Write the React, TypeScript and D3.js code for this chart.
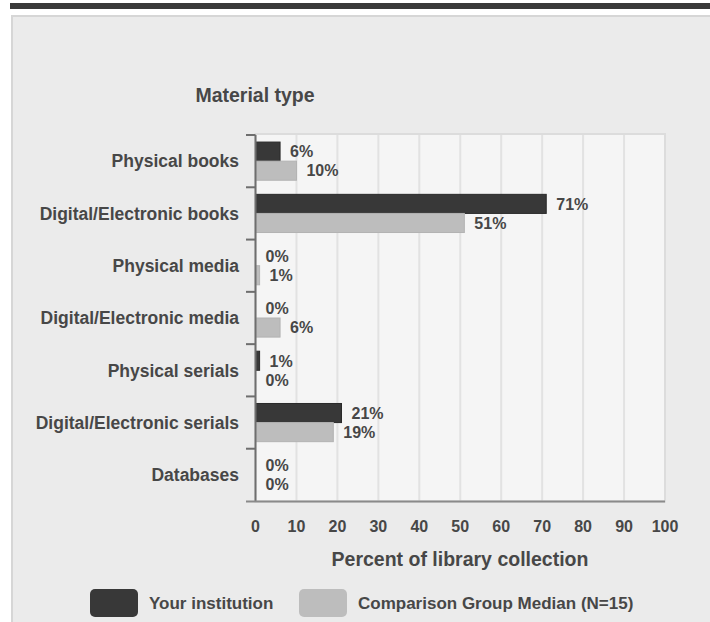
import React from "react";
import * as d3 from "d3";

const categories = [
  "Physical books",
  "Digital/Electronic books",
  "Physical media",
  "Digital/Electronic media",
  "Physical serials",
  "Digital/Electronic serials",
  "Databases",
];
const yourInstitution = [6, 71, 0, 0, 1, 21, 0];
const comparisonMedian = [10, 51, 1, 6, 0, 19, 0];
const seriesNames = ["Your institution", "Comparison Group Median (N=15)"];
const xTicks = [0, 10, 20, 30, 40, 50, 60, 70, 80, 90, 100];

const W = 710;
const H = 622;
const FONT = "Arial, 'Liberation Sans', sans-serif";
const TXT = "#474747";

export default function App() {
  const x = d3.scaleLinear().domain([0, 100]).range([255.5, 665]);
  const y = d3
    .scaleBand<string>()
    .domain(categories)
    .range([135, 501])
    .paddingInner(0.27)
    .paddingOuter(0.135);
  const inner = d3.scaleBand<string>().domain(seriesNames).range([0, y.bandwidth()]);
  const colors = ["#383838", "#bdbdbd"];
  const strokes = ["#2a2a2a", "#b3b3b3"];
  const data = [yourInstitution, comparisonMedian];
  const step = y.step();
  const top = 135;
  const bottom = 501.5;

  return (
    <div style={{ position: "absolute", left: 0, top: 0 }}>
      <svg width={W} height={H} style={{ display: "block" }}>
        <rect x={0} y={0} width={W} height={H} fill="#ffffff" />
        <rect x={10} y={3} width={W - 10} height={6} fill="#3a3a3a" />
        <rect x={12} y={16} width={W} height={H} fill="#ebebeb" stroke="#d6d6d6" strokeWidth={2} />
        <text x={255} y={102} textAnchor="middle" fontFamily={FONT} fontSize={19.5} fontWeight="bold" fill={TXT}>
          Material type
        </text>
        {/* plot background */}
        <rect x={x(0)} y={top - 1} width={x(100) - x(0)} height={bottom - top + 1} fill="#f5f5f5" stroke="#dcdcdc" strokeWidth={2} />
        {xTicks.slice(1, -1).map((t) => (
          <line key={t} x1={x(t)} x2={x(t)} y1={top} y2={bottom} stroke="#e2e2e2" strokeWidth={2} />
        ))}
        {/* bars */}
        {categories.map((c, i) => (
          <g key={c}>
            {data.map((series, s) => {
              const v = series[i];
              const by = (y(c) as number) + (inner(seriesNames[s]) as number);
              const bh = inner.bandwidth();
              return (
                <g key={s}>
                  {v > 0 && (
                    <rect
                      x={x(0)}
                      y={by}
                      width={x(v) - x(0)}
                      height={bh}
                      fill={colors[s]}
                      stroke={strokes[s]}
                      strokeWidth={1}
                    />
                  )}
                  <text
                    x={x(v) + 10}
                    y={by + bh / 2}
                    dy="0.36em"
                    fontFamily={FONT}
                    fontSize={16}
                    fontWeight="bold"
                    fill={TXT}
                  >
                    {v}%
                  </text>
                </g>
              );
            })}
          </g>
        ))}
        {/* left axis */}
        <line x1={x(0)} x2={x(0)} y1={top} y2={bottom} stroke="#6e6e6e" strokeWidth={2} />
        {categories.map((c, i) => (
          <line key={c} x1={246} x2={x(0)} y1={top + i * step} y2={top + i * step} stroke="#6e6e6e" strokeWidth={2} />
        ))}
        {categories.map((c) => (
          <text
            key={c}
            x={239}
            y={(y(c) as number) + y.bandwidth() / 2}
            dy="0.36em"
            textAnchor="end"
            fontFamily={FONT}
            fontSize={17.5}
            fontWeight="bold"
            fill={TXT}
          >
            {c}
          </text>
        ))}
        {/* bottom axis */}
        <line x1={246} x2={665} y1={bottom} y2={bottom} stroke="#8a8a8a" strokeWidth={2} />
        {xTicks.map((t) => (
          <text
            key={t}
            x={x(t)}
            y={526}
            dy="0.36em"
            textAnchor="middle"
            fontFamily={FONT}
            fontSize={16}
            fontWeight="bold"
            fill={TXT}
          >
            {t}
          </text>
        ))}
        <text x={460} y={559} dy="0.36em" textAnchor="middle" fontFamily={FONT} fontSize={19.5} fontWeight="bold" fill={TXT}>
          Percent of library collection
        </text>
        {/* legend */}
        <rect x={90} y={589} width={48} height={28} rx={5} fill={colors[0]} />
        <text x={149} y={603} dy="0.36em" fontFamily={FONT} fontSize={17} fontWeight="bold" fill={TXT}>
          {seriesNames[0]}
        </text>
        <rect x={299} y={589} width={48} height={28} rx={5} fill={colors[1]} />
        <text x={358} y={603} dy="0.36em" fontFamily={FONT} fontSize={17} fontWeight="bold" fill={TXT}>
          {seriesNames[1]}
        </text>
      </svg>
    </div>
  );
}
